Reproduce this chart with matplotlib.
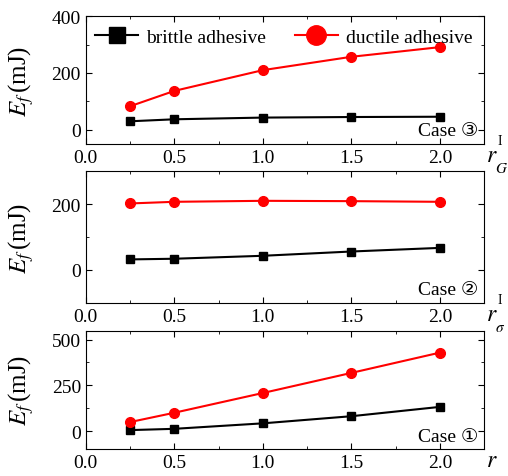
import matplotlib
matplotlib.use("Agg")
import matplotlib.pyplot as plt
from matplotlib.ticker import MultipleLocator, AutoMinorLocator
from matplotlib.transforms import offset_copy

plt.rcParams["font.family"] = ["Liberation Serif", "DejaVu Serif", "DejaVu Sans"]
plt.rcParams["mathtext.fontset"] = "stix"

r = [0.25, 0.5, 1.0, 1.5, 2.0]

# Case 3 (vs r_G^I)
brittle_3 = [30, 37, 43, 45, 46]
ductile_3 = [83, 137, 210, 257, 291]
# Case 2 (vs r_sigma^I)
brittle_2 = [32, 34, 43, 56, 67]
ductile_2 = [202, 207, 210, 209, 207]
# Case 1 (vs r)
brittle_1 = [5, 12, 42, 81, 132]
ductile_1 = [49, 100, 208, 318, 429]

x_ticks = [0.0, 0.5, 1.0, 1.5, 2.0]

fig = plt.figure(figsize=(5.08, 4.77), dpi=100)
ax3 = fig.add_axes([0.169, 0.696, 0.784, 0.268])
ax2 = fig.add_axes([0.169, 0.363, 0.784, 0.276])
ax1 = fig.add_axes([0.169, 0.056, 0.784, 0.249])

panels = [
    (ax3, brittle_3, ductile_3, (-50, 400), 200, "Case \u2462", "I", "$G$"),
    (ax2, brittle_2, ductile_2, (-100, 300), 200, "Case \u2461", "I", r"$\sigma$"),
    (ax1, brittle_1, ductile_1, (-100, 550), 250, "Case \u2460", None, None),
]


def at(ax, dx, dy):
    return offset_copy(ax.transAxes, fig=fig, x=dx, y=dy, units="dots")


for ax, b, d, ylim, ystep, case, sup, sub in panels:
    ax.plot(r, b, "k-s", lw=1.5, ms=6, label="brittle adhesive")
    ax.plot(r, d, "-o", color="red", lw=1.5, ms=7, label="ductile adhesive")
    ax.set_xlim(0, 2.25)
    ax.set_ylim(*ylim)
    ax.set_xticks(x_ticks)
    ax.set_xticklabels(["%.1f" % v for v in x_ticks])
    ax.xaxis.set_minor_locator(MultipleLocator(0.25))
    ax.yaxis.set_major_locator(MultipleLocator(ystep))
    ax.yaxis.set_minor_locator(AutoMinorLocator(2))
    ax.tick_params(which="both", direction="in", top=True, right=True, labelsize=14)
    ax.tick_params(which="major", length=4)
    ax.tick_params(which="minor", length=2)
    ax.set_ylabel(r"$E_f\,$(mJ)", fontsize=18)
    ax.yaxis.set_label_coords(-0.125, 0.5)
    ax.text(0.985, 0.04, case, transform=ax.transAxes, ha="right", va="bottom", fontsize=14)
    # x-axis label r with its own sup/subscript, to the right of the last tick label
    ax.text(1.005, 0.0, "$r$", transform=at(ax, 0, -17), ha="left", va="baseline",
            fontsize=17, clip_on=False)
    if sup:
        ax.text(1.005, 0.0, sup, transform=at(ax, 11, 0), ha="left", va="baseline",
                fontsize=10, clip_on=False)
        ax.text(1.005, 0.0, sub, transform=at(ax, 9, -28), ha="left", va="baseline",
                fontsize=11, clip_on=False)

ax3.legend(loc="upper left", ncol=2, frameon=False, fontsize=14, markerscale=2,
           handlelength=2.2, columnspacing=1.5, handletextpad=0.4,
           bbox_to_anchor=(-0.02, 1.04))

fig.savefig("out.png", dpi=100)
